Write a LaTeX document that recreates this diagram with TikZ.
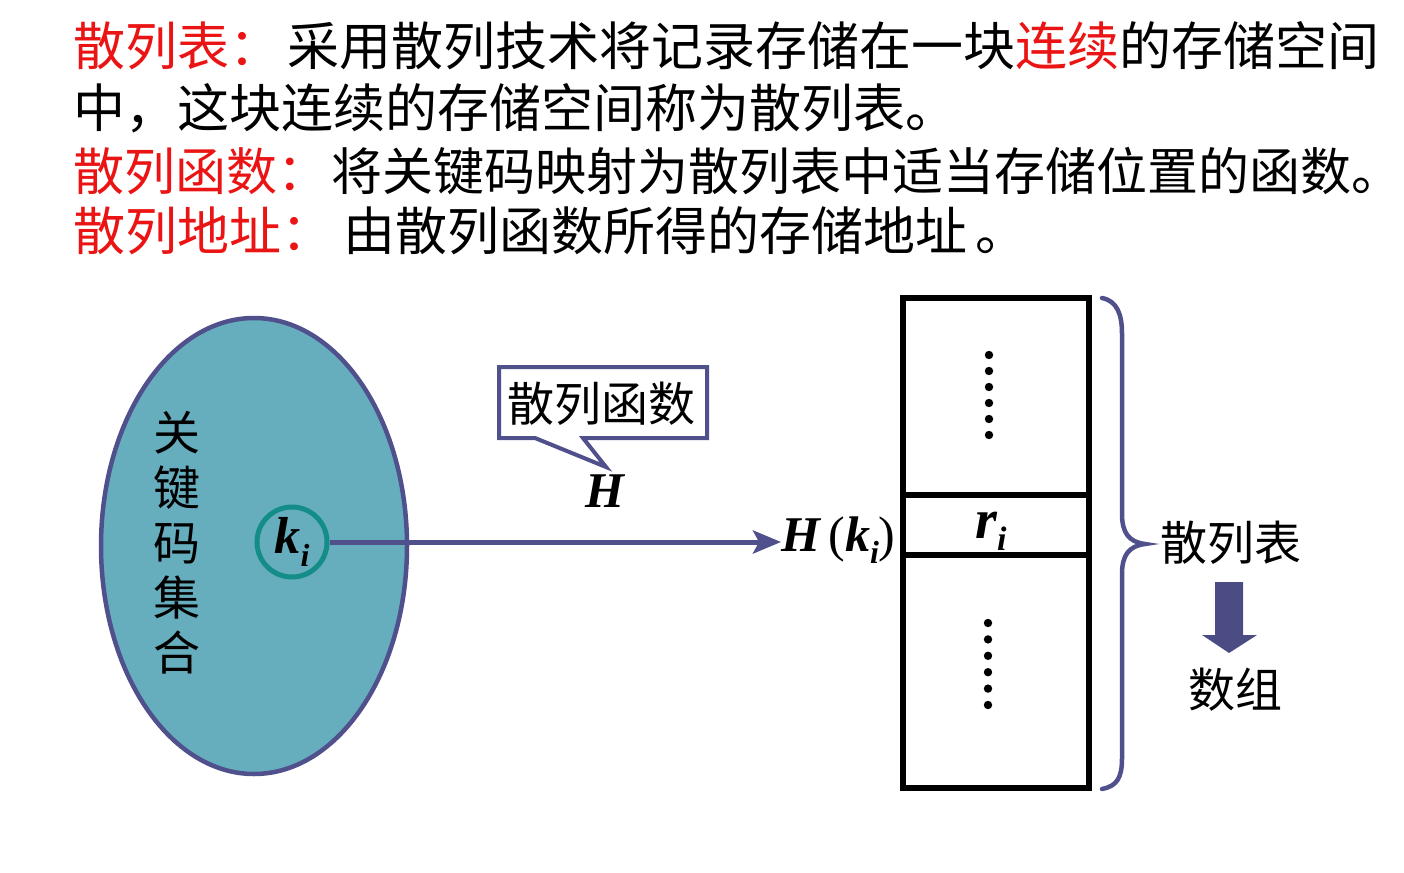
\documentclass[tikz,border=0pt]{standalone}
\usepackage{fontspec}
\newfontfamily\cjk{Noto Sans CJK SC}
\newfontfamily\tnr{Liberation Serif}
\newcommand\bi{\tnr\bfseries\itshape}
\usetikzlibrary{arrows.meta,shapes.geometric,backgrounds}
\definecolor{hred}{RGB}{235,20,20}
\definecolor{setfill}{RGB}{102,174,190}
\definecolor{slate}{RGB}{80,80,140}
\definecolor{circteal}{RGB}{20,140,135}
\tikzset{
  txt/.style={anchor=base west, inner sep=0pt, font=\cjk\fontsize{52}{60}\selectfont},
  lbl/.style={inner sep=0pt, font=\cjk\fontsize{47}{55}\selectfont},
  cell/.style={draw=black, line width=5.5pt, minimum width=186pt, inner sep=0pt},
  dotm/.style={fill=black},
}
\begin{document}
\begin{tikzpicture}[x=1pt,y=-1pt]
\useasboundingbox (0,0) rectangle (1404,872);

% header text
\node[txt] (l1) at (73,66) {\textcolor{hred}{散列表：}\hspace{6pt}采用散列技术将记录存储在一块\textcolor{hred}{连续}的存储空间};
\node[txt] (l2) at (73,128) {中，这块连续的存储空间称为散列表。};
\node[txt, font=\cjk\fontsize{51}{60}\selectfont] (l3) at (73,190) {\textcolor{hred}{散列函数：}\hspace{3pt}将关键码映射为散列表中适当存储位置的函数。};
\node[txt] (l4) at (73,250) {\textcolor{hred}{散列地址：}\hspace{10pt}由散列函数所得的存储地址\hspace{8pt}。};

% key set
\node[ellipse, draw=slate, fill=setfill, line width=4.5pt, minimum width=306pt, minimum height=456pt, inner sep=0pt] (set) at (254,546) {};
\node[lbl, align=center] (setlbl) at (177,543) {关\\键\\码\\集\\合};
\node[circle, draw=circteal, line width=5pt, minimum size=70pt, inner sep=0pt,
      font=\bi\fontsize{52}{52}\selectfont] (ki) at (292,542)
      {k\raisebox{-13pt}{\fontsize{32}{32}\selectfont i}};

% H(k_i)
\node[anchor=base west, inner sep=0pt, font=\bi\fontsize{50}{50}\selectfont] (hk) at (781,551)
  {H{\tnr\mdseries\upshape\,(}k\raisebox{-12pt}{\fontsize{32}{32}\selectfont i}{\tnr\mdseries\upshape)}};
\draw[slate, line width=5pt, -{Stealth[length=28pt, width=23pt, inset=6pt]}] (ki.east) -- (ki.east -| hk.west);

% callout
\node[lbl] (fn) at (601,404) {散列函数};
\coordinate (tip) at (606,467);
\begin{scope}[on background layer]
\draw[slate, line width=4pt, fill=white, line join=miter]
  ([shift={(-102,-37)}]fn.center) -- ([shift={(106,-37)}]fn.center)
  -- ([shift={(106,34)}]fn.center) -- ([shift={(-18,34)}]fn.center)
  -- (tip) -- ([shift={(-66,34)}]fn.center) -- ([shift={(-102,34)}]fn.center) -- cycle;
\end{scope}
\node[inner sep=0pt, font=\bi\fontsize{50}{50}\selectfont] (H) at (605,491) {H};

% table
\node[cell, minimum height=197pt] (top) at (996,396.5) {};
\node[cell, minimum height=60pt] (mid) at (996,525) {};
\node[cell, minimum height=233pt] (bot) at (996,671.5) {};
\node[inner sep=0pt, font=\bi\fontsize{56}{56}\selectfont] (ri) at (991,531)
  {r\raisebox{-12pt}{\fontsize{34}{34}\selectfont i}};
\foreach \yy in {355,371,387,403,419,435} \fill[dotm] (989,\yy) circle (4.2pt);
\foreach \yy in {623,639.4,655.8,672.2,688.6,705} \fill[dotm] (988,\yy) circle (4.2pt);

% brace
\draw[slate, line width=4.5pt, line cap=round]
  (1102,298) .. controls (1117,301) and (1122,314) .. (1122,334) -- (1122,514)
  .. controls (1122,533) and (1129,542) .. (1145,544)
  .. controls (1129,546) and (1122,555) .. (1122,574) -- (1122,758)
  .. controls (1122,778) and (1117,786) .. (1102,789);

\node[lbl] (tbl) at (1231,543) {散列表};
\fill[slate!95!black] (1215,582) -- (1243,582) -- (1243,635) -- (1257,635) -- (1229,653) -- (1202,635) -- (1215,635) -- cycle;
\node[lbl] (arr) at (1235,690) {数组};
\end{tikzpicture}
\end{document}
